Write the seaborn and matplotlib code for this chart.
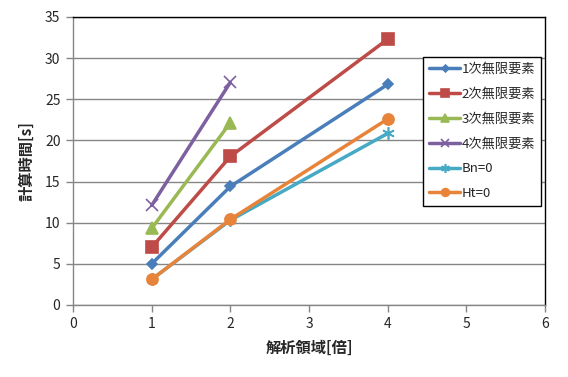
import pandas as pd
import matplotlib.pyplot as plt
import seaborn as sns

# data
names = ['1次無限要素', '2次無限要素', '3次無限要素', '4次無限要素', 'Bn=0', 'Ht=0']
x_vals = [[1, 2, 4], [1, 2, 4], [1, 2], [1, 2], [1, 2, 4], [1, 2, 4]]
y_vals = [[5.0, 14.4, 26.8],
          [7.0, 18.05, 32.3],
          [9.3, 22.15],
          [12.1, 27.05],
          [3.1, 10.3, 20.85],
          [3.1, 10.4, 22.6]]
colors = ['#4A7EBB', '#BE4B48', '#98B954', '#7D60A0', '#46AAC5', '#E8833A']
markers = ['D', 's', '^', 'x', (6, 2, 0), 'o']
msizes = [5, 8, 8, 8, 9, 8]

sns.set_style('white')
plt.rcParams['font.family'] = ['Noto Sans CJK JP', 'DejaVu Sans']

fig = plt.figure(figsize=(5.68, 3.77), dpi=100)
ax = fig.add_axes([0.1285, 0.191, 0.831, 0.764])

for name, xs, ys, c, m, ms in zip(names, x_vals, y_vals, colors, markers, msizes):
    df = pd.DataFrame({'x': xs, 'y': ys})
    sns.lineplot(data=df, x='x', y='y', ax=ax, color=c, marker=m, markersize=ms,
                 markeredgecolor=c, markeredgewidth=1.2, linewidth=2.5, label=name)

ax.set_xlim(0, 6)
ax.set_ylim(0, 35)
ax.set_xticks(range(0, 7))
ax.set_yticks(range(0, 36, 5))
ax.yaxis.grid(True, color='#868686', linewidth=1)
ax.xaxis.grid(False)
ax.set_axisbelow(True)

for s in ['top', 'right']:
    ax.spines[s].set_color('black')
    ax.spines[s].set_linewidth(1)
for s in ['left', 'bottom']:
    ax.spines[s].set_color('#868686')
    ax.spines[s].set_linewidth(1)

ax.tick_params(axis='both', direction='out', length=5, width=1, color='#868686',
               labelsize=10, pad=4, bottom=True, left=True)

ax.set_xlabel('解析領域[倍]', fontsize=11, fontweight='bold', labelpad=6)
ax.set_ylabel('計算時間[s]', fontsize=11, fontweight='bold', labelpad=8)

leg = ax.legend(loc='upper left', bbox_to_anchor=(0.741, 0.862), fontsize=9.5,
                frameon=True, fancybox=False, edgecolor='black', framealpha=1,
                handlelength=2.4, labelspacing=0.9, borderpad=0.45,
                handletextpad=0.1, borderaxespad=0, markerscale=0.7)
leg.get_frame().set_linewidth(1)

fig.savefig('out.png', dpi=100)
